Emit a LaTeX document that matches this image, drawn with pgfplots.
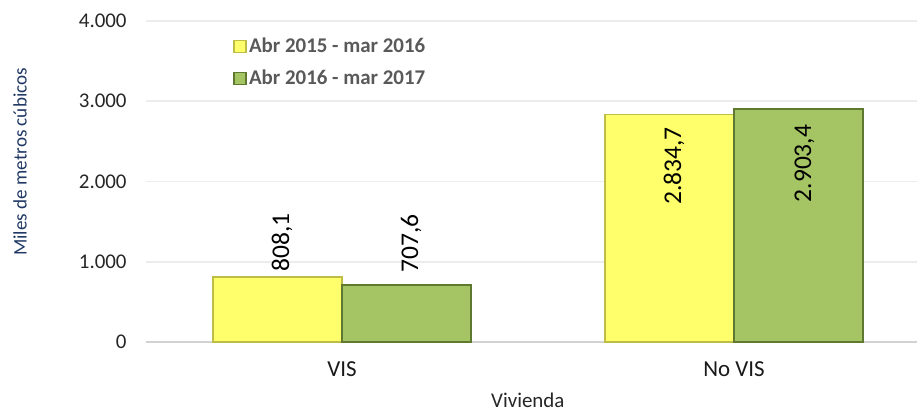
\documentclass[border=0pt]{standalone}
\usepackage{pgfplots}
\pgfplotsset{compat=1.18}
\usepackage{fontspec}
\setmainfont{Carlito}
\definecolor{yel}{RGB}{255,255,107}
\definecolor{yeledge}{RGB}{190,190,70}
\definecolor{grn}{RGB}{165,196,99}
\definecolor{grnedge}{RGB}{95,120,50}
\definecolor{ylab}{RGB}{31,56,100}
\definecolor{legtxt}{RGB}{89,89,89}
\definecolor{gridc}{RGB}{236,236,236}
\definecolor{axc}{RGB}{210,210,210}
\pgfplotsset{
  dlab/.style={every node near coord/.append style={font=\fontsize{12.8}{15}\selectfont, text=black, inner sep=0pt, #1}},
}
\begin{document}
\begin{tikzpicture}
\begin{axis}[name=ax, scale only axis, width=392bp, height=160.5bp,
  xmin=-0.5, xmax=1.5, ymin=0, ymax=4000, enlargelimits=false, clip=false,
  xtick={0,1}, xticklabels={VIS, No VIS},
  ytick={0,1000,2000,3000,4000},
  /pgf/number format/1000 sep={.},
  /pgf/number format/assume math mode=true,
  ymajorgrids, grid style={draw=gridc, line width=0.9bp},
  axis x line=bottom, axis y line=left, axis line style={-},
  x axis line style={draw=axc, line width=1.1bp},
  y axis line style={draw=none},
  major tick length=0pt,
  yticklabel style={font=\fontsize{10.5}{12}\selectfont, text=black!85, anchor=east, inner sep=0pt, xshift=-9.5bp},
  xticklabel style={font=\fontsize{11.5}{13}\selectfont, text=black!90, anchor=center, inner sep=0pt, yshift=-13.5bp},
  xlabel={Vivienda},
  every axis x label/.style={at={(rel axis cs:0.487,0)}, anchor=center, yshift=-29bp, font=\fontsize{10.5}{12}\selectfont, text=black!85},
  ylabel={Miles de metros cúbicos},
  every axis y label/.style={at={(rel axis cs:-0.1607,0.561)}, rotate=90, anchor=center, font=\fontsize{9.6}{11}\selectfont, text=ylab},
  legend style={draw=none, fill=none, at={(rel axis cs:0.111,1)}, anchor=north west, yshift=-7bp,
    font=\fontsize{10.5}{12}\bfseries\selectfont, text=legtxt, inner sep=0pt, row sep=4.8bp,
    nodes={inner sep=1.2bp}, cells={anchor=west}},
]
\addplot[ybar, bar width=64.5bp, bar shift=0pt, fill=yel, draw=yeledge, line width=0.8bp,
  legend image code/.code={\draw[fill=yel,draw=yeledge,line width=0.6bp] (0bp,-3bp) rectangle (6bp,3bp);},
  nodes near coords, point meta=explicit symbolic,
  dlab={xshift=2.3bp, yshift=2.3bp, rotate=90, anchor=west}]
  coordinates {(-0.1645,808.1) [808,1]};
\addlegendentry{Abr 2015 - mar 2016}
\addplot[ybar, bar width=64.5bp, bar shift=0pt, fill=grn, draw=grnedge, line width=0.8bp,
  legend image code/.code={\draw[fill=grn,draw=grnedge,line width=0.6bp] (0bp,-3bp) rectangle (6bp,3bp);},
  nodes near coords, point meta=explicit symbolic,
  dlab={xshift=2.3bp, yshift=6bp, rotate=90, anchor=west}]
  coordinates {(0.1645,707.6) [707,6]};
\addlegendentry{Abr 2016 - mar 2017}
\addplot[ybar, forget plot, bar width=64.5bp, bar shift=0pt, fill=yel, draw=yeledge, line width=0.8bp,
  nodes near coords, point meta=explicit symbolic,
  dlab={xshift=2.3bp, yshift=-6bp, rotate=90, anchor=east}]
  coordinates {(0.8355,2834.7) [2.834,7]};
\addplot[ybar, forget plot, bar width=64.5bp, bar shift=0pt, fill=grn, draw=grnedge, line width=0.8bp,
  nodes near coords, point meta=explicit symbolic,
  dlab={xshift=3bp, yshift=-7.5bp, rotate=90, anchor=east}]
  coordinates {(1.1645,2903.4) [2.903,4]};
\end{axis}
\pgfresetboundingbox
\path[use as bounding box] ([xshift=-73bp,yshift=-34bp]ax.south west) rectangle ([xshift=385.5bp,yshift=171bp]ax.south west);
\end{tikzpicture}
\end{document}
